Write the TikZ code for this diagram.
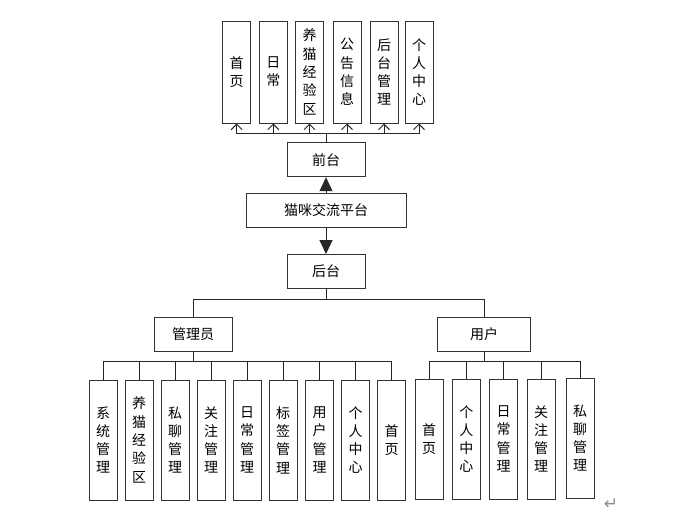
\documentclass[tikz,border=0pt]{standalone}
\usepackage{fontspec}
\setmainfont{Noto Sans CJK SC}
\newfontfamily\symfont{DejaVu Sans}
\usetikzlibrary{arrows.meta}
\begin{document}
\begin{tikzpicture}[x=1pt,y=-1pt,
  box/.style={draw=black!80,line width=1pt,fill=white,inner sep=0pt,align=center,font=\fontsize{14}{18.3}\selectfont},
  vbox/.style={box,minimum width=28pt,minimum height=120pt},
  tbox/.style={box,minimum width=28pt,minimum height=102pt},
  hbox/.style={box,minimum height=34pt},
  conn/.style={line width=1pt,draw=black!85},
  barb/.style={conn,-{Straight Barb[length=5.5pt,width=11pt]}},
  tri/.style={conn,-{Triangle[length=14pt,width=13pt]}}
]
\useasboundingbox (0,0) rectangle (692,515);

% top row
\node[tbox] (t1) at (236.7,72) {首\\页};
\node[tbox] (t2) at (273.3,72) {日\\常};
\node[tbox] (t3) at (309.5,72) {养\\猫\\经\\验\\区};
\node[tbox] (t4) at (347,72) {公\\告\\信\\息};
\node[tbox] (t5) at (384,72) {后\\台\\管\\理};
\node[tbox] (t6) at (419,72) {个\\人\\中\\心};

\node[hbox,minimum width=78pt] (qian) at (326,159.7) {前台};
\node[hbox,minimum width=160pt] (plat) at (326,210.3) {猫咪交流平台};
\node[hbox,minimum width=78pt] (hou) at (326,271.5) {后台};

\node[hbox,minimum width=78pt] (admin) at (193.2,334.5) {管理员};
\node[hbox,minimum width=93pt] (user) at (484,334.5) {用户};

% admin children
\node[vbox] (a1) at (103,440) {系\\统\\管\\理};
\node[vbox] (a2) at (139,440) {养\\猫\\经\\验\\区};
\node[vbox] (a3) at (175,440) {私\\聊\\管\\理};
\node[vbox] (a4) at (211,440) {关\\注\\管\\理};
\node[vbox] (a5) at (247,440) {日\\常\\管\\理};
\node[vbox] (a6) at (283,440) {标\\签\\管\\理};
\node[vbox] (a7) at (319.5,440) {用\\户\\管\\理};
\node[vbox] (a8) at (355.5,440) {个\\人\\中\\心};
\node[vbox] (a9) at (391.5,440) {首\\页};

% user children
\node[vbox] (u1) at (429,439) {首\\页};
\node[vbox] (u2) at (466.3,439) {个\\人\\中\\心};
\node[vbox] (u3) at (503.5,439) {日\\常\\管\\理};
\node[vbox] (u4) at (541,439) {关\\注\\管\\理};
\node[vbox] (u5) at (580,438) {私\\聊\\管\\理};

% connectors
\foreach \t in {t1,t2,t3,t4,t5,t6}
  \draw[barb] (qian.north) -- ++(0,-8.7) -| (\t.south);
\draw[tri] (plat.north) -- (qian.south);
\draw[tri] (plat.south) -- (hou.north);
\draw[conn] (hou.south) -- ++(0,10.6) -| (admin.north);
\draw[conn] (hou.south) -- ++(0,10.6) -| (user.north);
\foreach \a in {a1,a2,a3,a4,a5,a6,a7,a8,a9}
  \draw[conn] (admin.south) -- ++(0,9.5) -| (\a.north);
\foreach \u in {u1,u2,u3,u4,u5}
  \draw[conn] (user.south) -- ++(0,9.5) -| (\u.north);

\node[text=black!45,font=\symfont\fontsize{17}{17}\selectfont] (ret) at (611,504) {↵};
\end{tikzpicture}
\end{document}
